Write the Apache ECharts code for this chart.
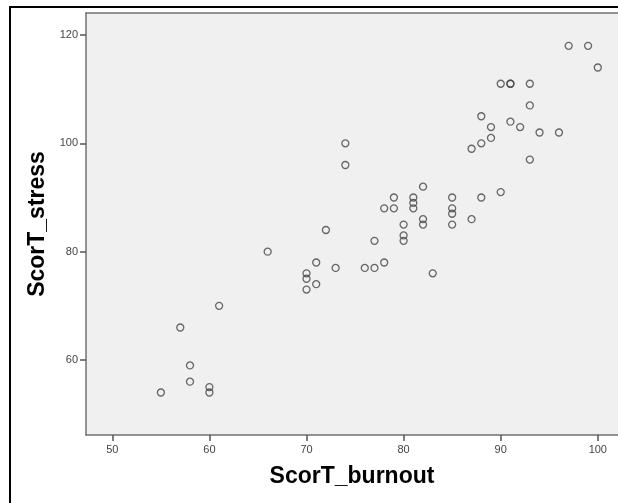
<!DOCTYPE html>
<html>
<head>
<meta charset="utf-8">
<script src="https://cdn.jsdelivr.net/npm/echarts@6/dist/echarts.min.js"></script>
<style>
  html, body { margin: 0; padding: 0; background: #fff; }
  #chart { width: 618px; height: 503px; }
</style>
</head>
<body>
<div id="chart"></div>
<script>
  // paired observations: burnout score (x) and stress score (y)
  var burnout = [55, 57, 58, 58, 60, 60, 61, 66, 70, 70, 70, 71, 71, 72, 73,
                 74, 74, 76, 77, 77, 78, 78, 79, 79, 80, 80, 80, 81, 81, 81,
                 82, 82, 82, 83, 85, 85, 85, 85, 87, 87, 88, 88, 88, 89, 89,
                 90, 90, 91, 91, 91, 92, 93, 93, 93, 94, 96, 97, 99, 100];
  var stress  = [54, 66, 59, 56, 55, 54, 70, 80, 76, 75, 73, 78, 74, 84, 77,
                 100, 96, 77, 77, 82, 88, 78, 90, 88, 85, 83, 82, 90, 89, 88,
                 92, 86, 85, 76, 90, 88, 87, 85, 99, 86, 105, 100, 90, 103, 101,
                 111, 91, 111, 111, 104, 103, 111, 107, 97, 102, 102, 118, 118, 114];

  var xTicks = [50, 60, 70, 80, 90, 100];
  var yTicks = [60, 80, 100, 120];

  var points = burnout.map(function (b, i) { return [b, stress[i]]; });

  var font = "'Liberation Sans', Arial, sans-serif";
  var frame = { color: '#707070', width: 1.5 };

  var option = {
    animation: false,
    backgroundColor: '#fff',
    graphic: [{
      type: 'rect',
      shape: { x: 10, y: 7, width: 700, height: 600 },
      style: { fill: 'none', stroke: '#000', lineWidth: 2 },
      z: 100
    }],
    grid: {
      left: 86,
      top: 13,
      right: 0,
      bottom: 68,
      show: true,
      backgroundColor: '#f0f0f0',
      borderWidth: 0
    },
    xAxis: [{
      type: 'value',
      min: 47.29,
      max: 102.08,
      name: 'ScorT_burnout',
      nameLocation: 'middle',
      nameGap: 30,
      nameTextStyle: { fontFamily: font, fontSize: 23, fontWeight: 'bold', color: '#000' },
      axisLine: { show: true, onZero: false, lineStyle: frame },
      axisTick: { show: true, length: 6, customValues: xTicks, lineStyle: { color: '#555', width: 1.5 } },
      axisLabel: { customValues: xTicks, margin: 9, fontFamily: font, fontSize: 11, color: '#444' },
      splitLine: { show: false }
    }, {
      // top edge of the plot frame only
      type: 'value',
      position: 'top',
      min: 47.29,
      max: 102.08,
      axisLine: { show: true, onZero: false, lineStyle: frame },
      axisTick: { show: false },
      axisLabel: { show: false },
      splitLine: { show: false }
    }],
    yAxis: {
      type: 'value',
      min: 46.15,
      max: 124.06,
      name: 'ScorT_stress',
      nameLocation: 'middle',
      nameGap: 37,
      nameTextStyle: { fontFamily: font, fontSize: 23, fontWeight: 'bold', color: '#000' },
      axisLine: { show: true, onZero: false, lineStyle: frame },
      axisTick: { show: true, length: 6, customValues: yTicks, lineStyle: { color: '#555', width: 1.5 } },
      axisLabel: { customValues: yTicks, margin: 8, fontFamily: font, fontSize: 11, color: '#444' },
      splitLine: { show: false }
    },
    series: [{
      type: 'scatter',
      data: points,
      symbol: 'circle',
      symbolSize: 7,
      itemStyle: { color: 'rgba(0,0,0,0)', borderColor: '#444', borderWidth: 1.3 }
    }]
  };

  var chart = echarts.init(document.getElementById('chart'));
  chart.setOption(option);
</script>
</body>
</html>
